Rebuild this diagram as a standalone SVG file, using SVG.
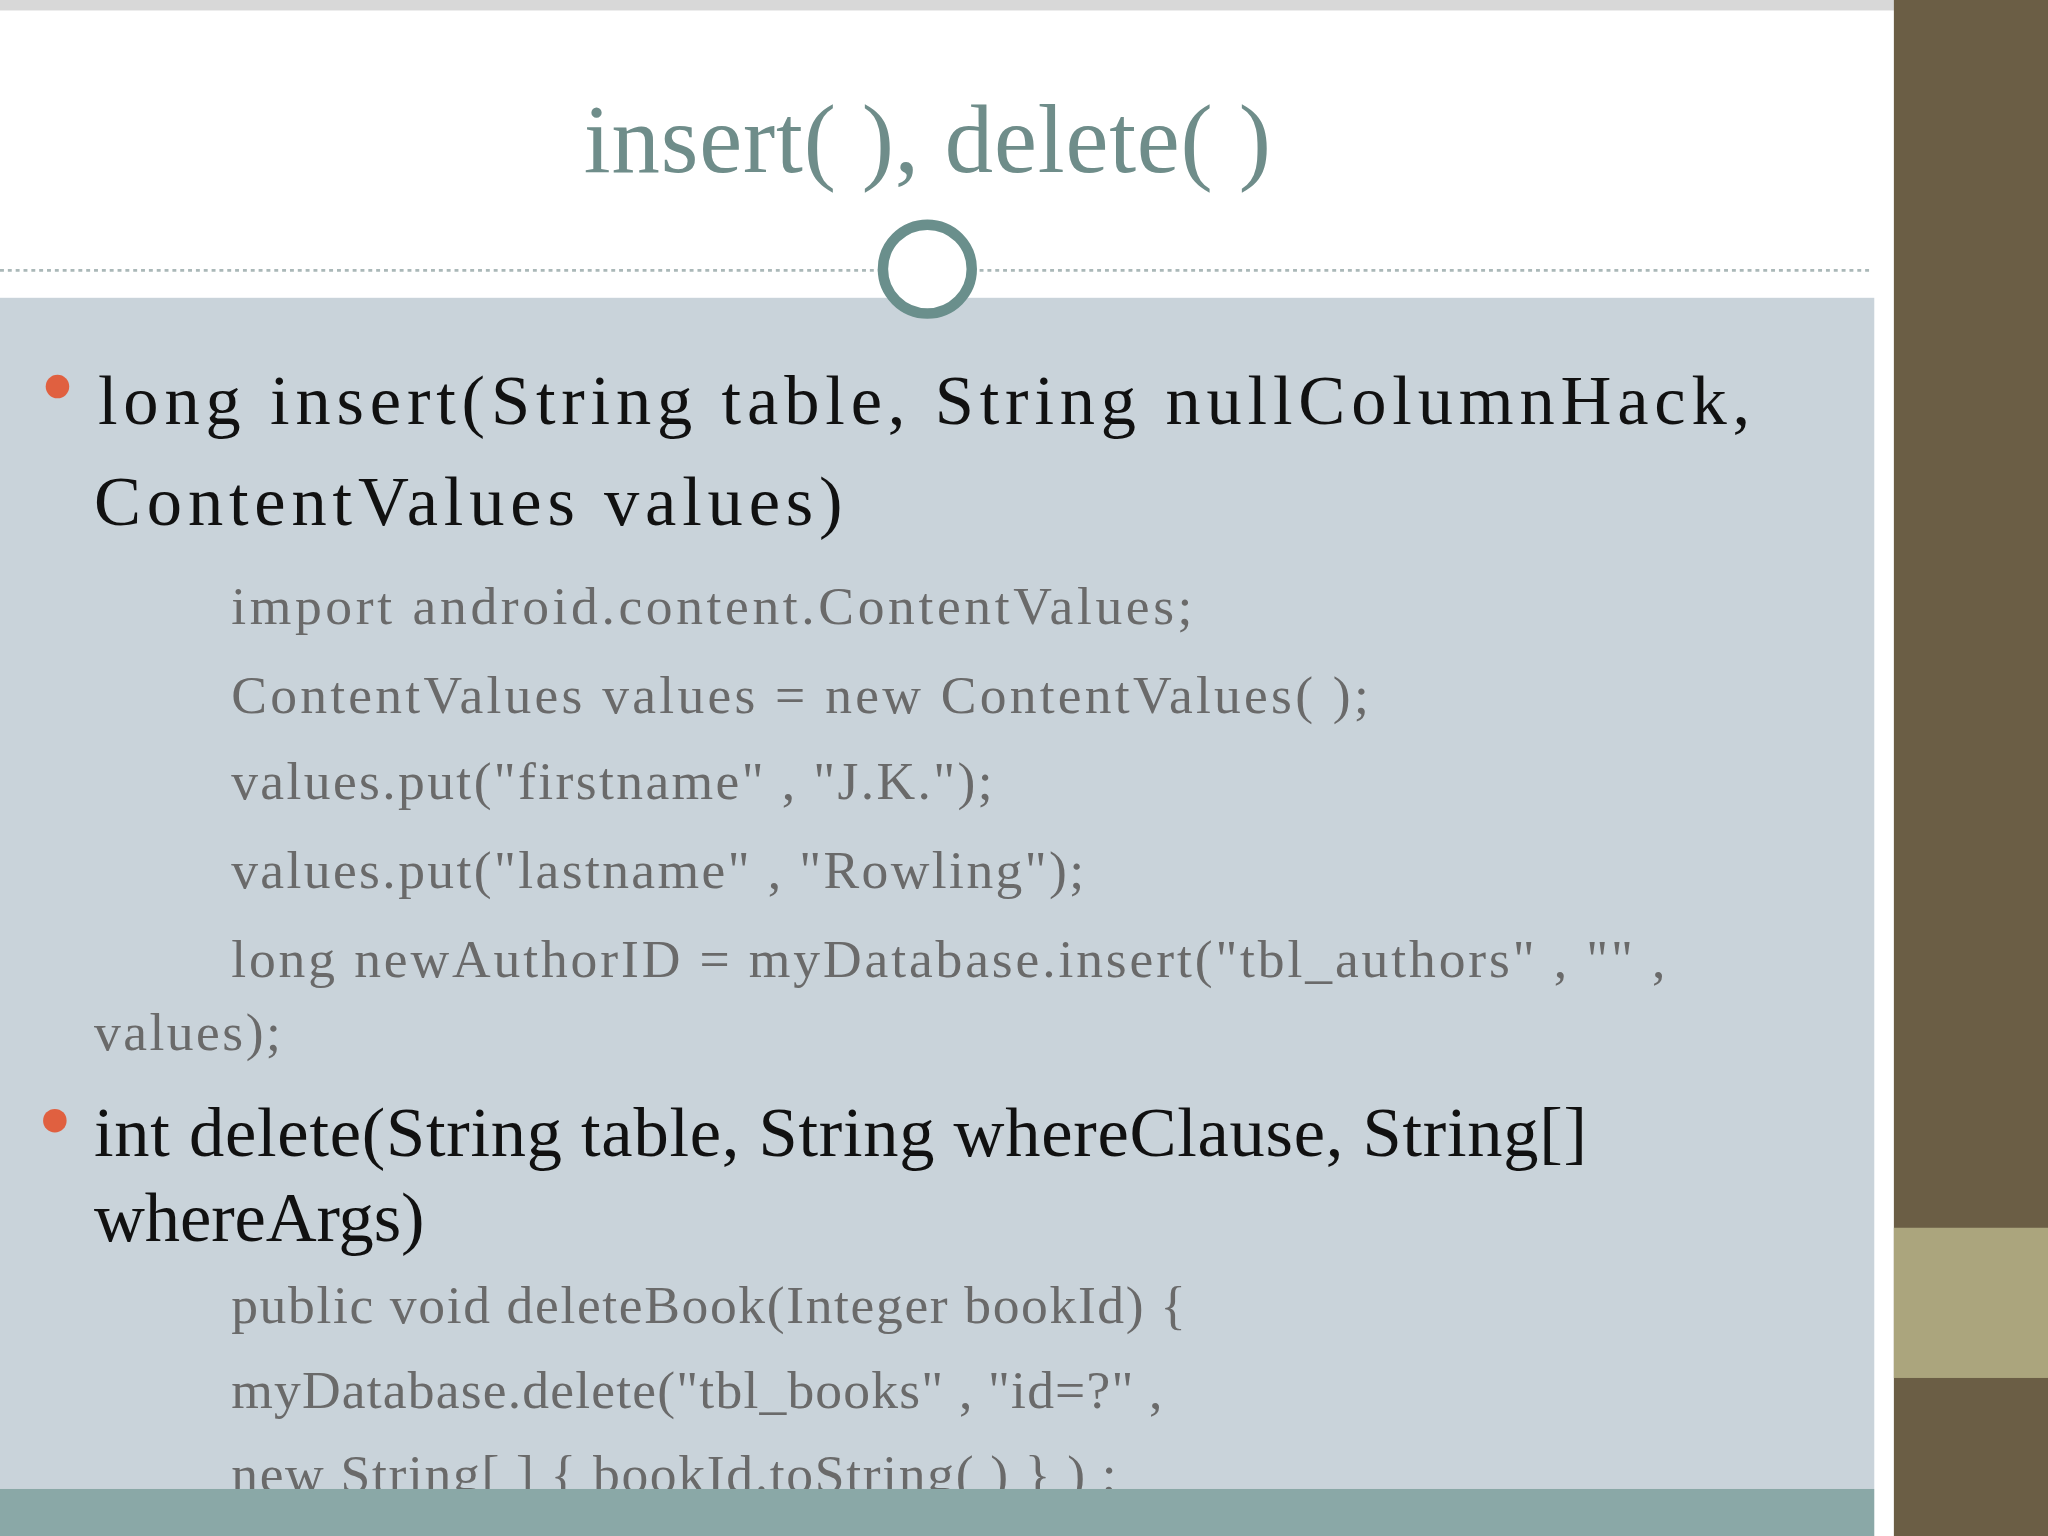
<svg xmlns="http://www.w3.org/2000/svg" width="2048" height="1536" viewBox="0 0 2048 1536">
<style>
.h{font-family:"Liberation Serif",serif;font-size:54px;fill:#111}
.c{font-family:"Liberation Serif",serif;font-size:41px;fill:#6a6a6a}
</style>
<g transform="scale(1.30612)">
<rect width="1568" height="1176" fill="#ffffff"/>
<rect width="1568" height="8" fill="#d8d8d8"/>
<rect x="0" y="228" width="1435" height="912" fill="#c9d3da"/>
<rect x="1450" y="0" width="118" height="1176" fill="#6b5e45"/>
<rect x="1450" y="940" width="118" height="115" fill="#aba57d"/>
<g id="title">
<text x="710" y="132" text-anchor="middle" font-family="Liberation Serif,serif" font-size="74" fill="#6f8d8a" textLength="526">insert( ), delete( )</text>
<line x1="0" y1="207" x2="1432" y2="207" stroke="#aab8b8" stroke-width="2" stroke-dasharray="3 3"/>
<circle cx="710" cy="206" r="34" fill="#fff" stroke="#6a8f8c" stroke-width="8"/>
</g>
<g id="content">
<circle cx="44" cy="296" r="9" fill="#e06040"/>
<text class="h" x="75" y="325" textLength="1265">long  insert(String table, String nullColumnHack,</text>
<text class="h" x="72" y="402" textLength="573">ContentValues values)</text>
<text class="c" x="177" y="478" textLength="736">import  android.content.ContentValues;</text>
<text class="c" x="177" y="546" textLength="871">ContentValues  values = new  ContentValues( );</text>
<text class="c" x="177" y="612" textLength="583">values.put("firstname" , "J.K.");</text>
<text class="c" x="177" y="680" textLength="653">values.put("lastname" , "Rowling");</text>
<text class="c" x="177" y="748" textLength="1098">long newAuthorID =  myDatabase.insert("tbl_authors" , "" ,</text>
<text class="c" x="72" y="804" textLength="143">values);</text>
<circle cx="42" cy="858" r="9" fill="#e06040"/>
<text class="h" x="72" y="885" textLength="1143">int  delete(String table, String whereClause, String[]</text>
<text class="h" x="72" y="950" textLength="253">whereArgs)</text>
<text class="c" x="177" y="1013" textLength="731">public void deleteBook(Integer  bookId)  {</text>
<text class="c" x="177" y="1078" textLength="713">myDatabase.delete("tbl_books" , "id=?" ,</text>
<text class="c" x="177" y="1142" textLength="678">new String[ ]  { bookId.toString( )  } ) ;</text>
</g>
<rect x="0" y="1140" width="1435" height="36" fill="#8aa8a7"/>
</g>
</svg>
